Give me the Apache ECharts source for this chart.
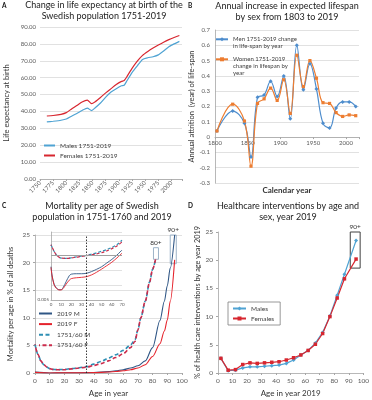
<!DOCTYPE html>
<html><head><meta charset="utf-8">
<script src="https://cdn.jsdelivr.net/npm/echarts@6/dist/echarts.min.js"></script>
<style>html,body{margin:0;padding:0;background:#fff}#c{width:372px;height:400px}</style>
</head><body><div id="c"></div>
<script>
// ---- Panel A: life expectancy at birth ----
const yearsA = [1763, 1775, 1790, 1800, 1810, 1820, 1830, 1840, 1848, 1855, 1865, 1875, 1885, 1895, 1905, 1910, 1915, 1925, 1935, 1945, 1955, 1965, 1975, 1985, 1995, 2005, 2015];
const malesA = [33.8, 34.2, 34.8, 35.5, 37.2, 38.8, 40.6, 42.0, 40.5, 42.2, 45.0, 48.5, 51.5, 53.5, 55.2, 55.5, 58.0, 63.0, 67.0, 70.8, 71.8, 72.4, 73.5, 75.8, 78.3, 80.0, 81.5];
const femalesA = [37.3, 37.6, 38.3, 39.3, 41.5, 43.5, 45.6, 46.7, 44.6, 45.8, 48.3, 51.0, 53.5, 56.0, 57.8, 58.3, 60.5, 65.5, 69.8, 73.2, 75.5, 77.5, 79.3, 81.0, 82.5, 83.8, 85.0];
const ticksA = ['0.00','10.00','20.00','30.00','40.00','50.00','60.00','70.00','80.00','90.00'];

// ---- Panel B: annual increase in lifespan ----
const yearsB = [1803, 1827, 1845, 1855, 1865, 1875, 1885, 1895, 1905, 1915, 1925, 1935, 1945, 1955, 1965, 1975, 1985, 1995, 2005, 2015];
const menB = [0.04, 0.17, 0.09, -0.13, 0.26, 0.275, 0.365, 0.265, 0.40, 0.12, 0.60, 0.31, 0.48, 0.315, 0.09, 0.06, 0.19, 0.23, 0.23, 0.20];
const womenB = [0.04, 0.215, 0.105, -0.19, 0.22, 0.25, 0.32, 0.24, 0.375, 0.155, 0.535, 0.33, 0.50, 0.385, 0.225, 0.22, 0.16, 0.135, 0.145, 0.14];

// ---- Panel C: mortality per age ----
const ages2019 = [0, 10, 20, 30, 40, 50, 55, 60, 65, 70, 75, 80, 85, 88, 90, 92, 95];
const male2019 = [0.15, 0.01, 0.04, 0.05, 0.1, 0.25, 0.4, 0.6, 0.9, 1.3, 2.2, 4.6, 9.5, 13, 15.8, 19, 25];
const female2019 = [0.12, 0.01, 0.02, 0.03, 0.07, 0.17, 0.28, 0.4, 0.6, 0.9, 1.5, 3.0, 5.3, 7.6, 9.6, 13, 20.5];
const ages1751 = [0, 2, 4, 6, 8, 10, 12, 15, 20, 25, 30, 35, 40, 45, 50, 55, 60, 65, 68, 70, 72, 75, 78, 80, 82];
const male1751 = [5.2, 3.4, 2.2, 1.5, 1.1, 0.8, 0.65, 0.6, 0.65, 0.8, 0.95, 1.15, 1.6, 2.1, 2.7, 3.3, 4.1, 5.1, 6.0, 7.8, 10, 13, 16.5, 18.8, 20.6];
const female1751 = [5.2, 3.4, 2.2, 1.5, 1.1, 0.8, 0.65, 0.6, 0.6, 0.75, 0.9, 1.05, 1.35, 1.7, 2.2, 2.8, 3.5, 4.6, 5.7, 7.8, 10, 13, 16.5, 18.8, 20.6];

// ---- Panel C inset (log scale) ----
const insetAges2019 = [0, 1, 3, 5, 8, 10, 12, 15, 18, 20, 25, 30, 35, 40, 45, 50, 55, 60, 65, 70];
const insetMale2019 = [0.9, 0.25, 0.06, 0.035, 0.025, 0.025, 0.035, 0.09, 0.22, 0.28, 0.3, 0.3, 0.32, 0.42, 0.6, 0.9, 1.6, 2.8, 5.5, 12];
const insetFemale2019 = [0.8, 0.22, 0.055, 0.032, 0.024, 0.024, 0.03, 0.06, 0.11, 0.14, 0.16, 0.17, 0.19, 0.25, 0.38, 0.62, 1.05, 1.8, 3.5, 7.4];
const insetAges1751 = [0, 3, 6, 10, 15, 20, 25, 30, 35, 40, 45, 50, 55, 60, 65, 70];
const insetMale1751 = [27, 10, 5, 3.4, 3.3, 3.6, 4.2, 4.6, 5.2, 6.3, 7.8, 10, 13, 18, 28, 55];
const insetFemale1751 = [27, 10, 5, 3.4, 3.3, 3.5, 4.0, 4.4, 5.0, 5.7, 6.6, 8.0, 10.5, 15, 23, 42];

// ---- Panel D: healthcare interventions ----
const agesD = [2, 7, 12, 17, 22, 27, 32, 37, 42, 47, 52, 57, 62, 67, 72, 77, 82, 87, 95];
const malesD = [2.6, 0.4, 0.5, 0.9, 1.1, 1.1, 1.2, 1.3, 1.4, 1.7, 2.3, 3.2, 4.0, 5.3, 7.2, 10.1, 13.8, 17.5, 23.5];
const femalesD = [2.6, 0.5, 0.6, 1.5, 1.8, 1.7, 1.8, 1.9, 2.0, 2.3, 2.7, 3.2, 4.0, 5.1, 7.0, 10.0, 13.3, 16.7, 20.2];

const pairs = (xs, ys) => xs.map((x, i) => [x, ys[i]]);

const FONT = 'Lato';
const LBL = '#595959';
const GRID = '#D9D9D9';
const AXIS = '#A6A6A6';
const lab = (o) => Object.assign({ fontSize: 6, color: LBL, fontFamily: FONT }, o || {});
const tick = { show: true, length: 2, lineStyle: { color: AXIS } };
const line = { show: true, onZero: false, lineStyle: { color: AXIS, width: 0.8 } };
const split = { show: true, lineStyle: { color: GRID, width: 0.8 } };
const titleStyle = { fontSize: 9, fontWeight: 'normal', color: '#222', lineHeight: 11, fontFamily: FONT };
const letterStyle = { fontSize: 6.5, fontWeight: 'bold', color: '#111', fontFamily: FONT };
const nameStyle = (s) => ({ fontSize: s, color: '#333', fontFamily: FONT });
const legText = { fontSize: 6.5, color: '#404040', fontFamily: FONT };

const cBlue = '#4FA3D3', cRed = '#D7262F';
const bBlue = '#4E8DCD', bOrange = '#ED7D31';
const c19M = '#2F5685', c19F = '#E5232C', c51M = '#2E8FB4', c51F = '#CC2C4C';

const option = {
  backgroundColor: '#fff',
  animation: false,
  textStyle: { fontFamily: FONT },
  title: [
    { text: 'Change in life expectancy at birth of the\nSwedish population 1751-2019', left: 104, top: 0, textAlign: 'center', padding: 0, textStyle: titleStyle },
    { text: 'Annual increase in expected lifespan\nby sex from 1803 to 2019', left: 287, top: 0.5, textAlign: 'center', padding: 0, textStyle: titleStyle },
    { text: 'Mortality per age of Swedish\npopulation in 1751-1760 and 2019', left: 102, top: 200.5, textAlign: 'center', padding: 0, textStyle: titleStyle },
    { text: 'Healthcare interventions by age and\nsex, year 2019', left: 288, top: 201, textAlign: 'center', padding: 0, textStyle: titleStyle },
    { text: 'A', left: 2, top: 2, padding: 0, textStyle: letterStyle },
    { text: 'B', left: 188, top: 2, padding: 0, textStyle: letterStyle },
    { text: 'C', left: 2, top: 202, padding: 0, textStyle: letterStyle },
    { text: 'D', left: 188, top: 202, padding: 0, textStyle: letterStyle },
    { text: 'Calendar year', left: 287, top: 186, textAlign: 'center', padding: 0, textStyle: nameStyle(8) }
  ],
  legend: [
    { data: ['Males 1751-2019', 'Females 1751-2019'], left: 43, top: 142, orient: 'vertical', padding: 0, itemGap: 3, itemWidth: 11, itemHeight: 6,
      itemStyle: { opacity: 0 }, textStyle: legText },
    { data: ['Men 1751-2019 change in life-span by year'], left: 215, top: 28.8, orient: 'vertical', padding: 0, itemWidth: 12, itemHeight: 5,
      formatter: () => '\nMen 1751-2019 change\nin life-span by year', textStyle: { fontSize: 6, lineHeight: 7, color: '#404040', fontFamily: FONT } },
    { data: ['Women 1751-2019 change in lifespan by year'], left: 215, top: 41.8, orient: 'vertical', padding: 0, itemWidth: 12, itemHeight: 5,
      formatter: () => '\n\nWomen 1751-2019\nchange in lifespan by\nyear', textStyle: { fontSize: 6, lineHeight: 7, color: '#404040', fontFamily: FONT } },
    { data: ['2019 M', '2019 F', '1751/60 M', '1751/60 F'], left: 38, top: 310, orient: 'vertical', padding: 0, itemGap: 3.6, itemWidth: 13, itemHeight: 6,
      itemStyle: { opacity: 0 }, textStyle: legText },
    { data: ['Males', 'Females'], left: 228, top: 302, orient: 'vertical', padding: [3, 6, 3, 4], itemGap: 3, itemWidth: 13, itemHeight: 5, borderColor: '#7F7F7F', borderWidth: 0.8, textStyle: legText }
  ],
  grid: [
    { left: 40, top: 27, width: 142, height: 152 },
    { left: 215, top: 30, width: 144, height: 153 },
    { left: 35, top: 235, width: 147, height: 138 },
    { left: 51, top: 232, width: 71, height: 68 },
    { left: 218, top: 232, width: 148, height: 141 }
  ],
  xAxis: [
    { gridIndex: 0, type: 'value', min: 1750, max: 2020, interval: 25, axisLine: line, axisTick: tick, splitLine: { show: false },
      axisLabel: lab({ rotate: 45, margin: 3, formatter: v => (v % 25 === 0 ? String(v) : '') }) },
    { gridIndex: 1, type: 'value', min: 1800, max: 2020, interval: 50, offset: -45.9, axisLine: line, axisTick: tick, splitLine: { show: false },
      axisLabel: lab({ margin: 3, formatter: v => (v % 50 === 0 ? String(v) : '') }) },
    { gridIndex: 2, type: 'value', min: 0, max: 100, interval: 10, axisLine: line, axisTick: tick, splitLine: { show: false },
      axisLabel: lab({ margin: 4, fontSize: 6.5 }), name: 'Age in year', nameLocation: 'middle', nameGap: 16, nameTextStyle: nameStyle(8) },
    { gridIndex: 3, type: 'value', min: 0, max: 70, interval: 10, axisLine: line, axisTick: { show: false }, splitLine: { show: false },
      axisLabel: lab({ margin: 2, fontSize: 4.5 }) },
    { gridIndex: 4, type: 'value', min: 0, max: 100, interval: 10, axisLine: line, axisTick: tick, splitLine: { show: false },
      axisLabel: lab({ margin: 4, fontSize: 6.5 }), name: 'Age in year 2019', nameLocation: 'middle', nameGap: 16, nameTextStyle: nameStyle(8) }
  ],
  yAxis: [
    { gridIndex: 0, type: 'value', min: 0, max: 90, interval: 10, axisLine: { show: false }, axisTick: { show: false }, splitLine: split,
      axisLabel: lab({ margin: 4, formatter: v => ticksA[Math.round(v / 10)] }),
      name: 'Life expectancy at birth', nameLocation: 'middle', nameGap: 29, nameTextStyle: nameStyle(7.5) },
    { gridIndex: 1, type: 'value', min: -0.3, max: 0.7, interval: 0.1, axisLine: line, axisTick: { show: false }, splitLine: split,
      axisLabel: lab({ margin: 5 }),
      name: 'Annual attrition  (year) of life-span', nameLocation: 'middle', nameGap: 17, nameTextStyle: nameStyle(7.5) },
    { gridIndex: 2, type: 'value', min: 0, max: 25, interval: 5, axisLine: line, axisTick: tick, splitLine: split,
      axisLabel: lab({ margin: 5, fontSize: 6.5 }),
      name: 'Mortality per age in % of all deaths', nameLocation: 'middle', nameGap: 20, nameTextStyle: nameStyle(7.5) },
    { gridIndex: 3, type: 'log', logBase: 10, min: 0.005, max: 200, interval: 1, axisLine: line, axisTick: { show: false }, splitLine: split,
      axisLabel: lab({ margin: 2, fontSize: 4.5, formatter: v => { const r = Math.log10(v / 0.005); return (Math.abs(r - Math.round(r)) < 1e-3 && r < 4.5) ? String(Number(v.toPrecision(2))) : ''; } }) },
    { gridIndex: 4, type: 'value', min: 0, max: 25, interval: 5, axisLine: line, axisTick: tick, splitLine: { show: false },
      axisLabel: lab({ margin: 5, fontSize: 6.5 }),
      name: '% of health care interventions by age year 2019', nameLocation: 'middle', nameGap: 17, nameTextStyle: nameStyle(7.3) }
  ],
  series: [
    // A
    { name: 'Males 1751-2019', type: 'line', xAxisIndex: 0, yAxisIndex: 0, data: pairs(yearsA, malesA), symbol: 'none', smooth: 0.2, color: cBlue, lineStyle: { width: 1.2 } },
    { name: 'Females 1751-2019', type: 'line', xAxisIndex: 0, yAxisIndex: 0, data: pairs(yearsA, femalesA), symbol: 'none', smooth: 0.2, color: cRed, lineStyle: { width: 1.2 } },
    // B
    { name: 'Men 1751-2019 change in life-span by year', type: 'line', xAxisIndex: 1, yAxisIndex: 1, data: pairs(yearsB, menB), symbol: 'diamond', symbolSize: 4, smooth: 0.4, color: bBlue, lineStyle: { width: 1.2 } },
    { name: 'Women 1751-2019 change in lifespan by year', type: 'line', xAxisIndex: 1, yAxisIndex: 1, data: pairs(yearsB, womenB), symbol: 'rect', symbolSize: 3.2, smooth: 0.4, color: bOrange, lineStyle: { width: 1.2 } },
    // C main
    { name: '2019 M', type: 'line', xAxisIndex: 2, yAxisIndex: 2, data: pairs(ages2019, male2019), symbol: 'none', smooth: 0.3, smoothMonotone: 'x', color: c19M, lineStyle: { width: 1.1 },
      markArea: { silent: true, itemStyle: { color: 'rgba(0,0,0,0)', borderColor: '#9DB3C8', borderWidth: 1 },
        label: { show: true, position: 'top', distance: 1, fontSize: 6.5, color: '#333', fontFamily: FONT },
        data: [[{ name: '90+', coord: [92, 19.8] }, { coord: [96.1, 25.4] }]] } },
    { name: '2019 F', type: 'line', xAxisIndex: 2, yAxisIndex: 2, data: pairs(ages2019, female2019), symbol: 'none', smooth: 0.3, smoothMonotone: 'x', color: c19F, lineStyle: { width: 1.1 } },
    { name: '1751/60 M', type: 'line', xAxisIndex: 2, yAxisIndex: 2, data: pairs(ages1751, male1751), symbol: 'none', smooth: 0.3, smoothMonotone: 'x', color: c51M, lineStyle: { width: 1.6, type: [4, 2.5] } },
    { name: '1751/60 F', type: 'line', xAxisIndex: 2, yAxisIndex: 2, data: pairs(ages1751, female1751), symbol: 'none', smooth: 0.3, smoothMonotone: 'x', color: c51F, lineStyle: { width: 1.6, type: [4, 2.5], dashOffset: 3 },
      markLine: { silent: true, symbol: 'none', label: { show: false }, lineStyle: { color: '#222', type: [1.5, 1.5], width: 0.9 }, data: [{ xAxis: 35 }] },
      markArea: { silent: true, itemStyle: { color: 'rgba(0,0,0,0)', borderColor: '#9DB3C8', borderWidth: 1 },
        label: { show: true, position: 'top', distance: 1, fontSize: 6.5, color: '#333', fontFamily: FONT },
        data: [[{ name: '80+', coord: [80.6, 20.6] }, { coord: [84, 22.7] }]] } },
    // C inset
    { name: 'inset 1751/60 M', type: 'line', xAxisIndex: 3, yAxisIndex: 3, data: pairs(insetAges1751, insetMale1751), symbol: 'none', smooth: 0.3, color: c51M, lineStyle: { width: 1.2, type: [3, 2] } },
    { name: 'inset 1751/60 F', type: 'line', xAxisIndex: 3, yAxisIndex: 3, data: pairs(insetAges1751, insetFemale1751), symbol: 'none', smooth: 0.3, color: c51F, lineStyle: { width: 1.2, type: [3, 2], dashOffset: 2 },
      markLine: { silent: true, symbol: 'none', label: { show: false }, lineStyle: { color: '#A0A0A0', type: 'solid', width: 1 }, data: [{ yAxis: 5 }] } },
    { name: 'inset 2019 M', type: 'line', xAxisIndex: 3, yAxisIndex: 3, data: pairs(insetAges2019, insetMale2019), symbol: 'none', smooth: 0.3, color: c19M, lineStyle: { width: 0.9 } },
    { name: 'inset 2019 F', type: 'line', xAxisIndex: 3, yAxisIndex: 3, data: pairs(insetAges2019, insetFemale2019), symbol: 'none', smooth: 0.3, color: c19F, lineStyle: { width: 0.9 } },
    // D
    { name: 'Males', type: 'line', xAxisIndex: 4, yAxisIndex: 4, data: pairs(agesD, malesD), symbol: 'diamond', symbolSize: 4, color: cBlue, lineStyle: { width: 1.2 },
      markArea: { silent: true, itemStyle: { color: 'rgba(0,0,0,0)', borderColor: '#404040', borderWidth: 1 },
        label: { show: true, position: 'top', distance: 1, fontSize: 6.5, color: '#333', fontFamily: FONT },
        data: [[{ name: '90+', coord: [91, 18.6] }, { coord: [97.8, 25.4] }]] } },
    { name: 'Females', type: 'line', xAxisIndex: 4, yAxisIndex: 4, data: pairs(agesD, femalesD), symbol: 'rect', symbolSize: 3.5, color: cRed, lineStyle: { width: 1.2 } }
  ]
};

const chart = echarts.init(document.getElementById('c'), null, { renderer: 'canvas' });
chart.setOption(option);
</script>
</body></html>
